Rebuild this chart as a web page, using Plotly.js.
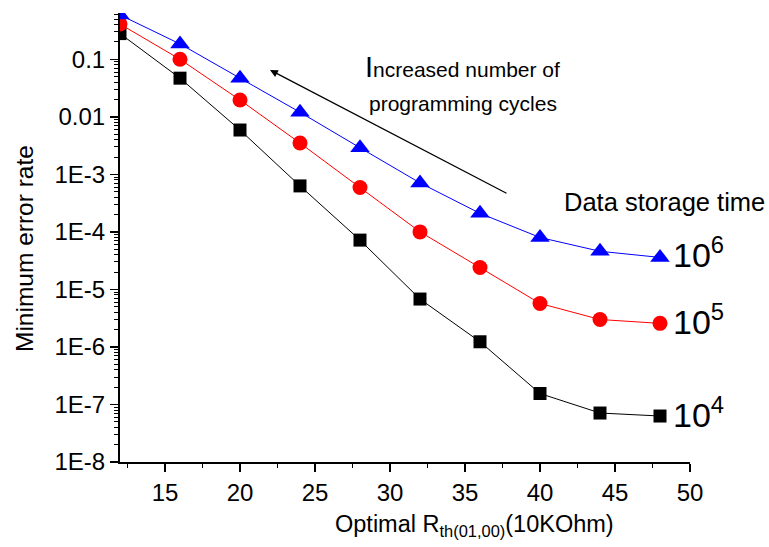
<!DOCTYPE html>
<html>
<head>
<meta charset="utf-8">
<script src="https://cdn.plot.ly/plotly-3.0.1.min.js"></script>
<style>html,body{margin:0;padding:0;background:#fff}#chart{width:769px;height:547px}</style>
</head>
<body>
<div id="chart"></div>
<script>
// Data
const rthValues = [12, 16, 20, 24, 28, 32, 36, 40, 44, 48];
const errT1e6 = [0.59, 0.185, 0.047, 0.012, 0.0029, 7.1e-4, 2.1e-4, 8.0e-5, 4.6e-5, 3.6e-5];
const errT1e5 = [0.41, 0.10, 0.0196, 0.0035, 5.9e-4, 1.0e-4, 2.4e-5, 5.7e-6, 3.0e-6, 2.57e-6];
const errT1e4 = [0.28, 0.047, 0.0059, 6.3e-4, 7.2e-5, 6.8e-6, 1.23e-6, 1.55e-7, 7.1e-8, 6.3e-8];
const seriesNames = ["10^4", "10^5", "10^6"];
const yTickVals = [0.1, 0.01, 1e-3, 1e-4, 1e-5, 1e-6, 1e-7, 1e-8];
const yTickText = ["0.1", "0.01", "1E-3", "1E-4", "1E-5", "1E-6", "1E-7", "1E-8"];

const minorVals = [];
for (let e = -8; e <= 0; e++) {
  for (let d = 2; d <= 9; d++) minorVals.push(d * Math.pow(10, e));
}

const FONT = "Liberation Sans, Arial, Helvetica, sans-serif";

const traces = [
  {x: rthValues, y: errT1e4, name: seriesNames[0], mode: "lines+markers",
   line: {color: "#000000", width: 1},
   marker: {symbol: "square", size: 13, color: "#000000"}},
  {x: rthValues, y: errT1e5, name: seriesNames[1], mode: "lines+markers",
   line: {color: "#ff0000", width: 1},
   marker: {symbol: "circle", size: 15, color: "#ff0000"}},
  {x: rthValues, y: errT1e6, name: seriesNames[2], mode: "lines+markers",
   line: {color: "#0000ff", width: 1},
   marker: {symbol: "triangle-up", size: 17, color: "#0000ff"}}
];

const layout = {
  width: 769, height: 547,
  margin: {l: 120, r: 79, t: 13, b: 85},
  paper_bgcolor: "#ffffff", plot_bgcolor: "#ffffff",
  showlegend: false,
  font: {family: FONT, color: "#000000", size: 24},
  xaxis: {
    range: [12, 50], tickmode: "linear", tick0: 0, dtick: 5,
    showline: true, linewidth: 2, linecolor: "#000", zeroline: false, showgrid: false,
    ticks: "outside", ticklen: 8, tickwidth: 1.5, tickcolor: "#000",
    tickfont: {size: 24, family: FONT},
    minor: {ticks: "outside", ticklen: 4, tickwidth: 1.5, tickcolor: "#000", dtick: 2.5, tick0: 0, showgrid: false}
  },
  yaxis: {
    type: "log", range: [-8, -0.195],
    tickmode: "array", tickvals: yTickVals, ticktext: yTickText,
    showline: true, linewidth: 2, linecolor: "#000", zeroline: false, showgrid: false,
    ticks: "outside", ticklen: 8, tickwidth: 1.5, tickcolor: "#000",
    tickfont: {size: 24, family: FONT},
    minor: {ticks: "outside", ticklen: 4, tickwidth: 1, tickcolor: "#000", tickmode: "array", tickvals: minorVals, showgrid: false}
  },
  annotations: [
    {xref: "paper", yref: "paper", x: (474 - 120) / 570, y: (462 - 525) / 449,
     xanchor: "center", yanchor: "middle", showarrow: false,
     text: "Optimal R<sub>th(01,00)</sub>(10KOhm)", font: {size: 23.5, family: FONT}},
    {xref: "paper", yref: "paper", x: (24 - 120) / 570, y: (462 - 249) / 449,
     xanchor: "center", yanchor: "middle", showarrow: false, textangle: -90,
     text: "Minimum error rate", font: {size: 24.5, family: FONT}},
    {xref: "paper", yref: "paper", x: (270 - 120) / 570, y: (462 - 70) / 449,
     ax: 238, ay: 124, axref: "pixel", ayref: "pixel", text: "", showarrow: true,
     arrowhead: 2, arrowsize: 1.2, arrowwidth: 1.3, arrowcolor: "#000"},
    {xref: "paper", yref: "paper", x: (462 - 120) / 570, y: (462 - 67) / 449,
     xanchor: "center", yanchor: "middle", showarrow: false,
     text: "<span style=\"font-size:29px\">I</span>ncreased number of", font: {size: 21, family: FONT}},
    {xref: "paper", yref: "paper", x: (463 - 120) / 570, y: (462 - 103) / 449,
     xanchor: "center", yanchor: "middle", showarrow: false,
     text: "programming cycles", font: {size: 21, family: FONT}},
    {xref: "paper", yref: "paper", x: (664 - 120) / 570, y: (462 - 202) / 449,
     xanchor: "center", yanchor: "middle", showarrow: false,
     text: "Data storage time", font: {size: 25.5, family: FONT}},
    {xref: "paper", yref: "paper", x: (671 - 120) / 570, y: (462 - 252) / 449,
     xanchor: "left", yanchor: "middle", showarrow: false,
     text: "10<sup>6</sup>", font: {size: 34, family: FONT}},
    {xref: "paper", yref: "paper", x: (671 - 120) / 570, y: (462 - 319) / 449,
     xanchor: "left", yanchor: "middle", showarrow: false,
     text: "10<sup>5</sup>", font: {size: 34, family: FONT}},
    {xref: "paper", yref: "paper", x: (671 - 120) / 570, y: (462 - 412) / 449,
     xanchor: "left", yanchor: "middle", showarrow: false,
     text: "10<sup>4</sup>", font: {size: 34, family: FONT}}
  ]
};

Plotly.newPlot("chart", traces, layout, {staticPlot: true, displayModeBar: false});
</script>
</body>
</html>
